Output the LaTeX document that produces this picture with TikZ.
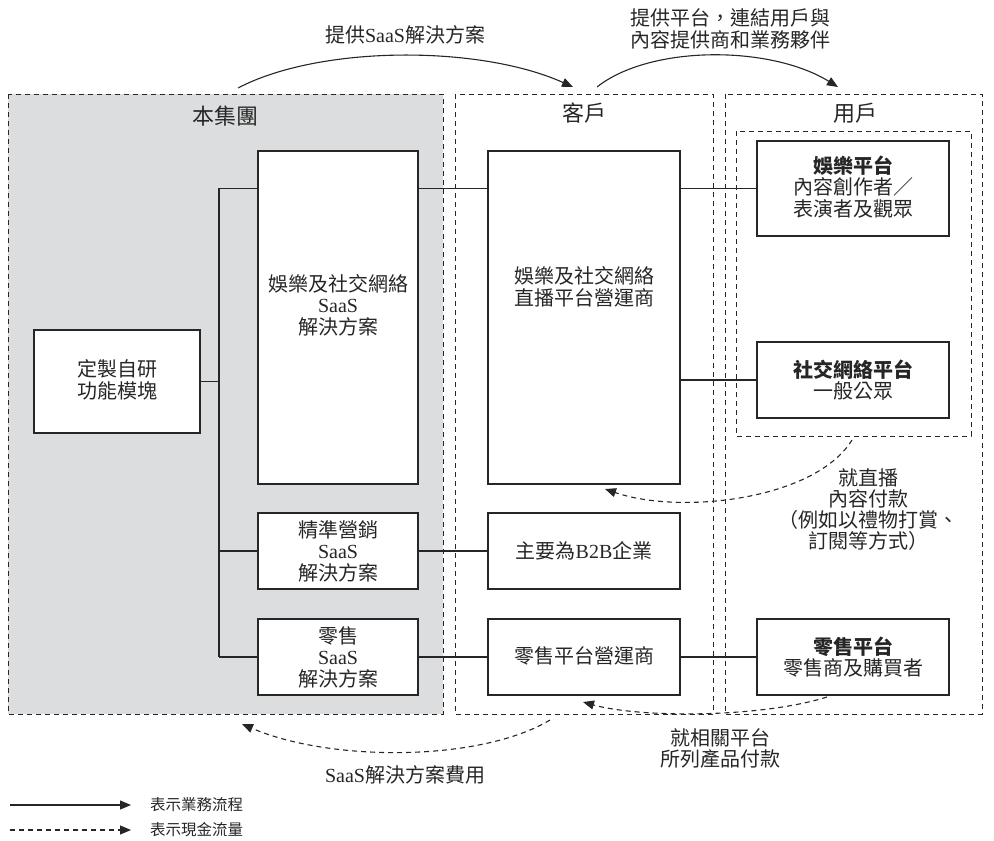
\documentclass[tikz,border=0pt]{standalone}
\usepackage{fontspec}
\setmainfont{Noto Sans CJK TC}
\newfontfamily\lat{Liberation Serif}
\usetikzlibrary{arrows.meta}
\definecolor{grpgray}{HTML}{DCDDDF}
\definecolor{ink}{HTML}{262626}
\newcommand\Lt[1]{{\lat #1}}
\tikzset{
  zone/.style={draw=ink, line width=0.9pt, dash pattern=on 5pt off 4pt},
  box/.style={draw=ink, line width=1.2pt, fill=white, inner sep=0pt},
  txt/.style={align=center, font=\fontsize{20}{21.5}\selectfont, text=ink, inner sep=0pt},
  ttl/.style={font=\fontsize{22}{24}\selectfont, text=ink, inner sep=0pt},
  lbl/.style={align=center, font=\fontsize{20}{22.5}\selectfont, text=ink, inner sep=0pt},
  leg/.style={anchor=west, font=\fontsize{15.5}{17}\selectfont, text=ink, inner sep=0pt},
  conn/.style={draw=ink, line width=1.1pt},
  flow/.style={draw=ink, line width=1.1pt, -{Triangle[length=11pt,width=9pt]}},
  cash/.style={draw=ink, line width=1.1pt, dash pattern=on 5pt off 4pt, -{Triangle[length=11pt,width=9pt]}},
}
\begin{document}
\begin{tikzpicture}[x=1pt,y=-1pt]
\useasboundingbox (0,0) rectangle (994,841);

% zones
\path[zone, fill=grpgray] (8,94) rectangle (443,714);
\path[zone] (455,94) rectangle (713,714);
\path[zone] (725,94) rectangle (982,714);
\path[zone] (736,131) rectangle (971,436);
\coordinate (grpTop) at (238,88);
\coordinate (cliTop) at (597,87);
\coordinate (cliTip) at (573,87);
\coordinate (usrTip) at (838,87);
\coordinate (innerBot) at (852,440);

\node[ttl] (tGrp) at (225,116) {本集團};
\node[ttl] (tCli) at (584,113) {客戶};
\node[ttl] (tUsr) at (855,113) {用戶};

% group boxes
\node[box, minimum width=166, minimum height=103] (mod) at (117,381.5) {};
\node[txt] (modT) at (117,380) {定製自研\\功能模塊};
\node[box, minimum width=160, minimum height=333] (saasE) at (338,317.5) {};
\node[txt] (saasET) at (338,305) {娛樂及社交網絡\\\Lt{SaaS}\\解決方案};
\node[box, minimum width=160, minimum height=76] (saasM) at (338,551) {};
\node[txt] (saasMT) at (338,551) {精準營銷\\\Lt{SaaS}\\解決方案};
\node[box, minimum width=160, minimum height=76] (saasR) at (338,657) {};
\node[txt] (saasRT) at (338,657) {零售\\\Lt{SaaS}\\解決方案};

% client boxes
\node[box, minimum width=192, minimum height=333] (cliE) at (584,317.5) {};
\node[txt] (cliET) at (584,287) {娛樂及社交網絡\\直播平台營運商};
\node[box, minimum width=192, minimum height=76] (cliB) at (584,551) {};
\node[txt] (cliBT) at (584,551) {主要為\Lt{B2B}企業};
\node[box, minimum width=192, minimum height=76] (cliR) at (584,657) {};
\node[txt] (cliRT) at (584,656) {零售平台營運商};

% user boxes
\node[box, minimum width=192, minimum height=95] (usrE) at (853,188.5) {};
\node[txt] (usrET) at (853,187) {\textbf{娛樂平台}\\內容創作者／\\表演者及觀眾};
\node[box, minimum width=192, minimum height=76] (usrS) at (853,380) {};
\node[txt] (usrST) at (853,380) {\textbf{社交網絡平台}\\一般公眾};
\node[box, minimum width=192, minimum height=76] (usrR) at (853,657) {};
\node[txt] (usrRT) at (853,657) {\textbf{零售平台}\\零售商及購買者};

% connectors
\coordinate (bus) at (219,0);
\draw[conn] (bus |- saasE.north) ++(0,38) coordinate (busTop) -- (bus |- saasR.west);
\draw[conn] (mod.east) -- (bus |- mod.east);
\draw[conn] (busTop) -- (saasE.west |- busTop);
\draw[conn] (bus |- saasM.west) -- (saasM.west);
\draw[conn] (bus |- saasR.west) -- (saasR.west);
\draw[conn] (saasE.east |- busTop) -- (cliE.west |- busTop);
\draw[conn] (saasM.east) -- (cliB.west);
\draw[conn] (saasR.east) -- (cliR.west);
\draw[conn] (cliE.east |- busTop) -- (usrE.west |- busTop);
\draw[conn] (cliE.east |- usrS.west) -- (usrS.west);
\draw[conn] (cliR.east) -- (usrR.west);

% top flows
\draw[flow] (grpTop) .. controls (320,45) and (480,45) .. (cliTip);
\node[lbl] (l1) at (405,35) {提供\Lt{SaaS}解決方案};
\draw[flow] (cliTop) .. controls (650,45) and (770,45) .. (usrTip);
\node[lbl] (l2) at (730,29) {提供平台，連結用戶與\\內容提供商和業務夥伴};

% cash flows
\coordinate (c1tip) at (605,489);
\draw[cash] (innerBot) .. controls (815,500) and (680,515) .. (c1tip);
\node[lbl, font=\fontsize{20}{21}\selectfont] (l3) at (868,510) {就直播\\內容付款\\（例如以禮物打賞、\\訂閱等方式）};
\coordinate (c2s) at (827,697);
\coordinate (c2tip) at (583,702);
\draw[cash] (c2s) .. controls (760,718) and (640,718) .. (c2tip);
\node[lbl, font=\fontsize{20}{21}\selectfont] (l4) at (720,748) {就相關平台\\所列產品付款};
\coordinate (c3s) at (550,720);
\coordinate (c3tip) at (242,724);
\draw[cash] (c3s) .. controls (480,762) and (330,762) .. (c3tip);
\node[lbl] (l5) at (405,775) {\Lt{SaaS}解決方案費用};

% legend
\coordinate (lg1a) at (10,805); \coordinate (lg1b) at (131,805);
\coordinate (lg2a) at (10,830); \coordinate (lg2b) at (131,830);
\draw[flow] (lg1a) -- (lg1b);
\draw[cash] (lg2a) -- (lg2b);
\node[leg] (lgt1) at (150,805) {表示業務流程};
\node[leg] (lgt2) at (150,830) {表示現金流量};
\end{tikzpicture}
\end{document}
